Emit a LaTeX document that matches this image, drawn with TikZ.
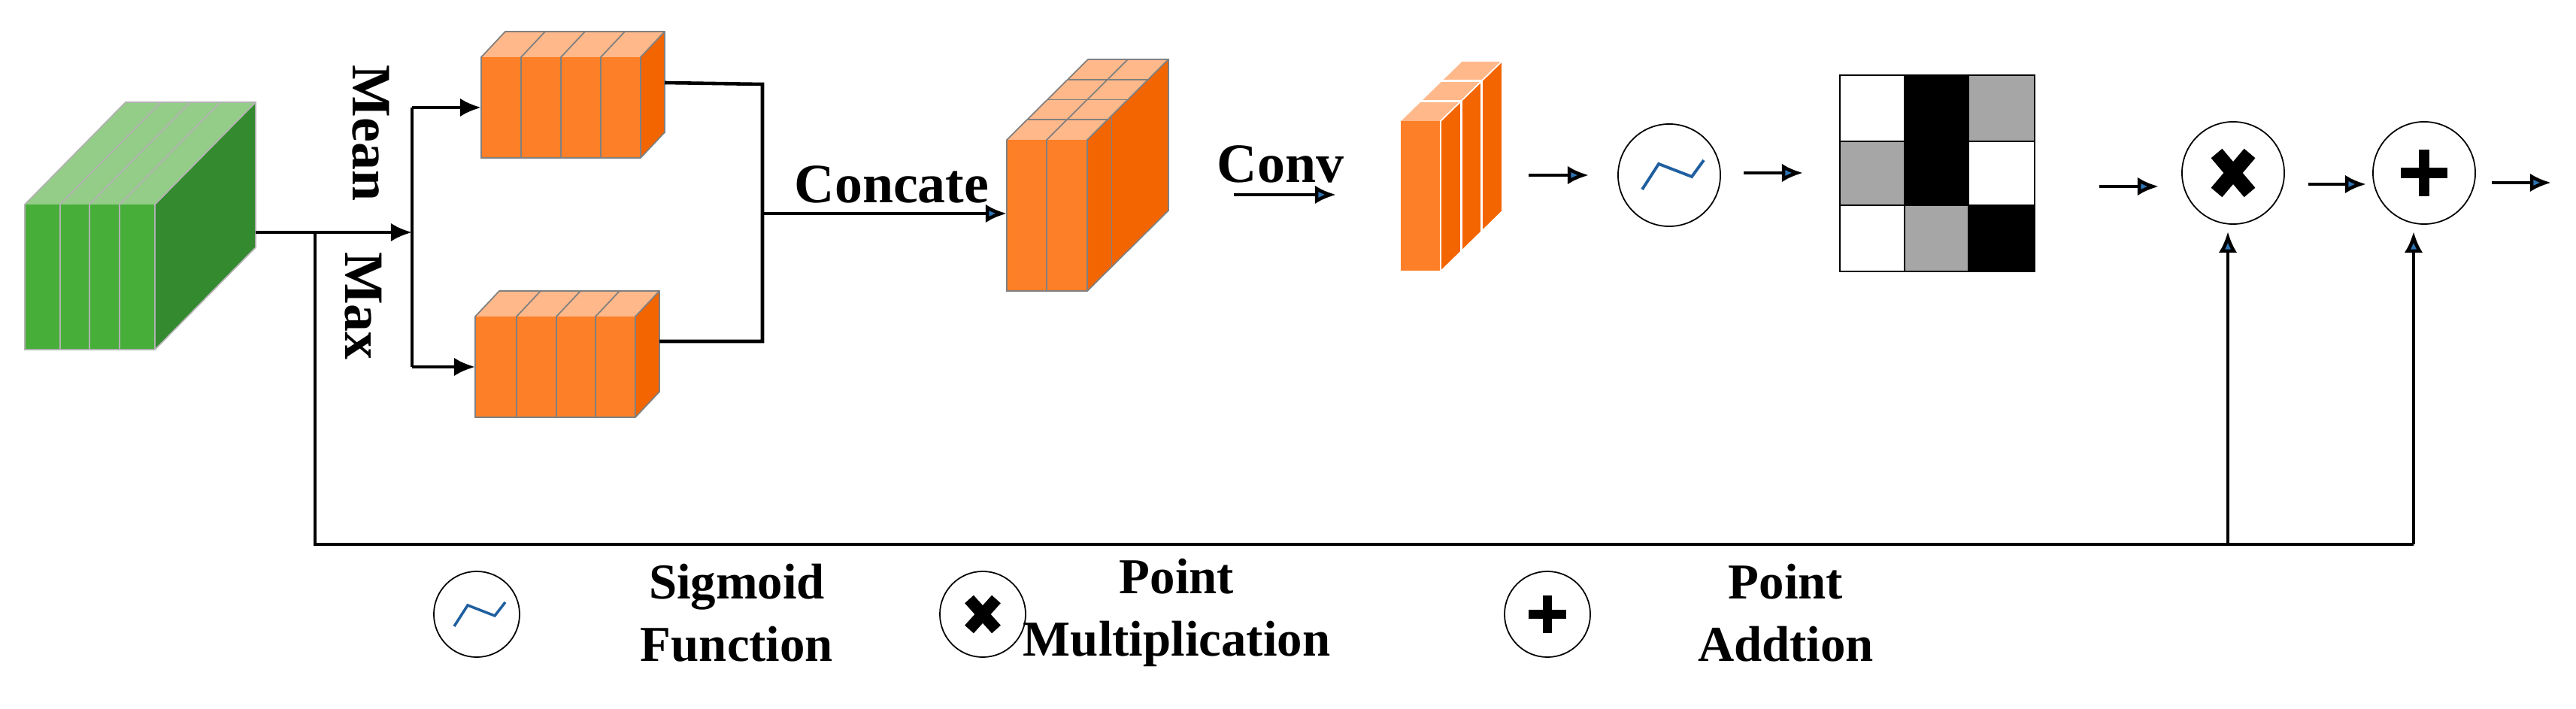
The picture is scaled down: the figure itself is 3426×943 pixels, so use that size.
\documentclass[tikz,border=0pt]{standalone}
\usepackage{fontspec}
\setmainfont{Liberation Serif}
\usetikzlibrary{arrows.meta}
\definecolor{gfront}{HTML}{47AE3A}\definecolor{gtop}{HTML}{93CD87}\definecolor{gside}{HTML}{338A2F}
\definecolor{ofront}{HTML}{FD7F27}\definecolor{otop}{HTML}{FFB88A}\definecolor{oside}{HTML}{F26500}
\definecolor{agray}{HTML}{A6A6A6}\definecolor{tipblue}{HTML}{2E75B6}\definecolor{sigblue}{HTML}{1F5FA0}
\newcommand\mycube[9]{%
 \fill[#9side] (#3,#2)--({#3+#5},{#2-#6})--({#3+#5},{#4-#6})--(#3,#4)--cycle;
 \fill[#9top] (#1,#2)--({#1+#5},{#2-#6})--({#3+#5},{#2-#6})--(#3,#2)--cycle;
 \fill[#9front] (#1,#2) rectangle (#3,#4);
 \draw[#8,line width=0.5pt] (#1,#4)--(#1,#2)--({#1+#5},{#2-#6})--({#3+#5},{#2-#6})--({#3+#5},{#4-#6})--(#3,#4)--cycle (#3,#4)--(#3,#2)--({#3+#5},{#2-#6});
 \foreach \s in {#7}{\draw[#8,line width=0.5pt] (\s,#4)--(\s,#2)--({\s+#5},{#2-#6});}
}
\tikzset{x=0.01cm,y=-0.01cm,
 conn/.style={line width=1.3pt},
 arr/.style={line width=1.3pt,-{Latex[length=8pt,width=7pt,fill=tipblue]}},
 barr/.style={line width=1.3pt,-{Latex[length=8pt,width=7pt]}},
 op/.style={circle,draw,line width=0.5pt,minimum size=1.36cm,inner sep=0pt},
 lab/.style={font=\bfseries\fontsize{21}{25}\selectfont},
 leg/.style={font=\bfseries\fontsize{19}{23.5}\selectfont,align=center}}
\begin{document}
\begin{tikzpicture}
\useasboundingbox (0,0) rectangle (3426,943);
% green input
\mycube{33}{272}{206}{465}{134}{136}{80,119,159}{gray!60}{g}
\coordinate (gout) at (340,309);
% mean/max boxes
\mycube{640}{76}{852}{210}{32}{34}{693,746,799}{gray}{o}
\mycube{632}{421}{845}{555}{32}{34}{687,740,792}{gray}{o}
\coordinate (split) at (548,309);
\coordinate (mtop) at (548,143); \coordinate (mbot) at (548,488);
\coordinate (meanin) at (640,143); \coordinate (maxin) at (632,488);
\draw[barr] (gout) -- (split);
\draw[conn] (mtop) -- (mbot);
\draw[barr] (mtop) -- (meanin);
\draw[barr] (mbot) -- (maxin);
\node[lab,rotate=-90] (mean) at (493,177) {Mean};
\node[lab,rotate=-90] (max) at (483,407) {Max};
% join
\coordinate (meanout) at (884,110); \coordinate (maxout) at (877,454);
\coordinate (j1) at (1014,112); \coordinate (j2) at (1014,454); \coordinate (jm) at (1014,284);
\draw[conn] (meanout) -- (j1) -- (j2) -- (maxout);
% concat block
\mycube{1339}{186}{1446}{387}{108}{107}{1392}{gray}{o}
\foreach \f in {0.25,0.5,0.75}{\draw[gray,line width=0.5pt] ({1339+108*\f},{186-107*\f})--({1446+108*\f},{186-107*\f});}
\draw[gray,line width=0.5pt] ({1446+108*0.3},{186-107*0.3})--({1446+108*0.3},{387-107*0.3});
\coordinate (catin) at (1339,284);
\draw[arr] (jm) -- (catin);
\node[lab] (concate) at (1186,245) {Concate};
% conv
\node[lab] (conv) at (1703,218) {Conv};
\coordinate (cv1) at (1641,259); \coordinate (cv2) at (1777,259);
\draw[arr] (cv1) -- (cv2);
\mycube{1862}{161}{1916}{361}{82}{80}{}{white}{o}
\foreach \f in {0.333,0.667}{\draw[white,line width=0.8pt] ({1862+82*\f},{161-80*\f})--({1916+82*\f},{161-80*\f})--({1916+82*\f},{361-80*\f});}
\coordinate (sa1) at (2033,233);
% sigmoid
\node[op] (sig) at (2220,233) {};
\draw[sigblue,line width=1.1pt] ([shift={(-36,19)}]sig.center)--([shift={(-14,-15)}]sig.center)--([shift={(30,2)}]sig.center)--([shift={(46,-20)}]sig.center);
\coordinate (sa2) at (2113,233);
\draw[arr] (sa1) -- (sa2);
% attention grid
\coordinate (ga1) at (2319,230); \coordinate (ga2) at (2398,230);
\draw[arr] (ga1) -- (ga2);
\fill[black] (2533,100) rectangle (2618,273);
\fill[agray] (2618,100) rectangle (2706,188);
\fill[agray] (2447,188) rectangle (2533,273);
\fill[agray] (2533,273) rectangle (2618,361);
\fill[black] (2618,273) rectangle (2706,361);
\draw[line width=0.5pt] (2447,100) rectangle (2706,361);
\draw[line width=0.5pt] (2533,100)--(2533,361) (2618,100)--(2618,361) (2447,188)--(2706,188) (2447,273)--(2706,273);
% ops
\node[op] (mul) at (2970,230) {};
\draw[line width=5.5pt] ([shift={(-22,-26)}]mul.center)--([shift={(22,26)}]mul.center) ([shift={(-22,26)}]mul.center)--([shift={(22,-26)}]mul.center);
\node[op] (add) at (3224,230) {};
\fill (3224-7,230-31) rectangle (3224+7,230+31);
\fill (3224-31,230-7) rectangle (3224+31,230+7);
\coordinate (m1) at (2792,248); \coordinate (m2) at (2871,248);
\draw[arr] (m1) -- (m2);
\coordinate (a1) at (3070,245); \coordinate (a2) at (3147,245);
\draw[arr] (a1) -- (a2);
\coordinate (o1) at (3314,243); \coordinate (o2) at (3393,243);
\draw[arr] (o1) -- (o2);
% skip connection
\coordinate (s0) at (419,309); \coordinate (s1) at (419,724);
\coordinate (s2) at (2963,724); \coordinate (s3) at (3210,724);
\coordinate (s2e) at (2963,308); \coordinate (s3e) at (3210,308);
\draw[conn] (s0) -- (s1) -- (s3);
\draw[arr] (s2) -- (s2e);
\draw[arr] (s3) -- (s3e);
% legend
\node[op,minimum size=1.14cm] (l1) at (634,817) {};
\draw[sigblue,line width=1.0pt] ([shift={(-30,16)}]l1.center)--([shift={(-12,-12)}]l1.center)--([shift={(24,2)}]l1.center)--([shift={(38,-16)}]l1.center);
\node[leg] (t1) at (980,815) {Sigmoid\\Function};
\node[op,minimum size=1.14cm] (l2) at (1307,817) {};
\draw[line width=4.5pt] ([shift={(-18,-20)}]l2.center)--([shift={(18,20)}]l2.center) ([shift={(-18,20)}]l2.center)--([shift={(18,-20)}]l2.center);
\node[leg] (t2) at (1565,815) {Point\\Multiplication};
\node[op,minimum size=1.14cm] (l3) at (2058,817) {};
\fill (2058-6,817-25) rectangle (2058+6,817+25);
\fill (2058-25,817-6) rectangle (2058+25,817+6);
\node[leg] (t3) at (2375,815) {Point\\Addtion};
\end{tikzpicture}
\end{document}
